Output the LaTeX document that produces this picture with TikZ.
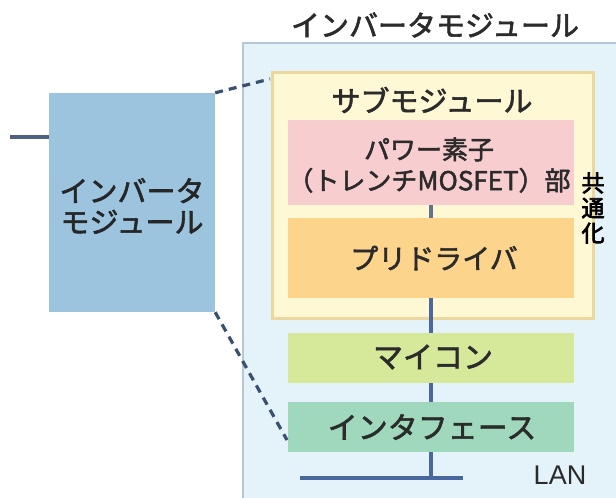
\documentclass[tikz,border=0pt]{standalone}
\usepackage{fontspec}
\newfontfamily\jp{Noto Sans CJK JP}[FakeBold=2]
\newfontfamily\jpb{Noto Sans CJK JP}[FakeBold=3]
\setmainfont{Liberation Sans}
\definecolor{outerfill}{HTML}{E4F2F9}
\definecolor{outerline}{HTML}{B4C8D8}
\definecolor{leftfill}{HTML}{9CC4DF}
\definecolor{subfill}{HTML}{FFF8D4}
\definecolor{subline}{HTML}{ECD89C}
\definecolor{pinkfill}{HTML}{F8CDD0}
\definecolor{orangefill}{HTML}{FDD48C}
\definecolor{micomfill}{HTML}{D6E89A}
\definecolor{iffill}{HTML}{9FD8BD}
\definecolor{txt}{HTML}{2B2B2B}
\definecolor{conn}{HTML}{4A68A0}
\definecolor{dash}{HTML}{3A5070}
\newcommand\jpsz[1]{\jp\fontsize{#1}{31}\selectfont}
\tikzset{
  jptext/.style={text=txt, font=\jpsz{29}, inner sep=0pt, align=center},
  blk/.style={draw=none, inner sep=0pt, minimum width=286pt},
  connline/.style={draw=conn, line width=3.2pt},
  dashline/.style={draw=dash, line width=3.2pt, dash pattern=on 8pt off 6pt},
}
\begin{document}
\begin{tikzpicture}[x=1pt,y=-1pt]
\useasboundingbox (0,0) rectangle (616,498);
\clip (0,0) rectangle (616,498);
% outer module
\node[draw=outerline, line width=2pt, fill=outerfill, minimum width=397pt, minimum height=477pt, inner sep=0pt] (outer) at (441.5,281.5) {};
\node[jptext] (title) at (435,25) {インバータモジュール};
% left module
\node[fill=leftfill, minimum width=166pt, minimum height=219pt, inner sep=0pt] (left) at (132,202.5) {};
\node[jptext, text=black!85] (lefttxt) at (132,206) {インバータ\\モジュール};
\coordinate (stub) at (10,137);
\draw[connline, draw=dash!90] (stub) -- (stub -| left.west);
% submodule
\node[draw=subline, line width=3pt, fill=subfill, minimum width=321pt, minimum height=246pt, inner sep=0pt] (sub) at (432.5,195) {};
\node[jptext] (subtitle) at (432,100) {サブモジュール};
\node[blk, fill=pinkfill, minimum height=85pt] (pink) at (431,162.5) {};
\node[jptext, font=\jpsz{26}] (pinktxt) at (429,165) {パワー素子\\（トレンチMOSFET）部};
\node[blk, fill=orangefill, minimum height=80pt] (orange) at (431,258) {};
\node[jptext, font=\jpsz{28}] (orangetxt) at (434,258) {プリドライバ};
\node[blk, fill=micomfill, minimum height=50pt] (micom) at (431,358) {};
\node[jptext, font=\jpsz{30}] (micomtxt) at (433,357) {マイコン};
\node[blk, fill=iffill, minimum height=50pt] (iface) at (431,427) {};
\node[jptext, font=\jpsz{30}] (ifacetxt) at (432,427) {インタフェース};
\node[jptext, font=\jpb\fontsize{23}{25}\selectfont, text=black] (common) at (593,208) {共\\通\\化};
% connectors
\draw[connline, draw=dash!80] (pink.south) -- (orange.north);
\draw[connline] (orange.south) -- (micom.north);
\draw[connline] (micom.south) -- (iface.north);
\coordinate (lanl) at (300,478);
\coordinate (lanr) at (463,478);
\draw[connline] (iface.south) -- (iface.south |- lanl);
\draw[connline] (lanl) -- (lanr);
\node[text=txt, font=\fontsize{27}{29}\selectfont, inner sep=0pt] (lan) at (560,475) {LAN};
% dashed links
\coordinate (d1) at (270,79);
\coordinate (d2) at (287,440);
\draw[dashline] (left.north east) -- (d1);
\draw[dashline] (left.south east) -- (d2);
\end{tikzpicture}
\end{document}
